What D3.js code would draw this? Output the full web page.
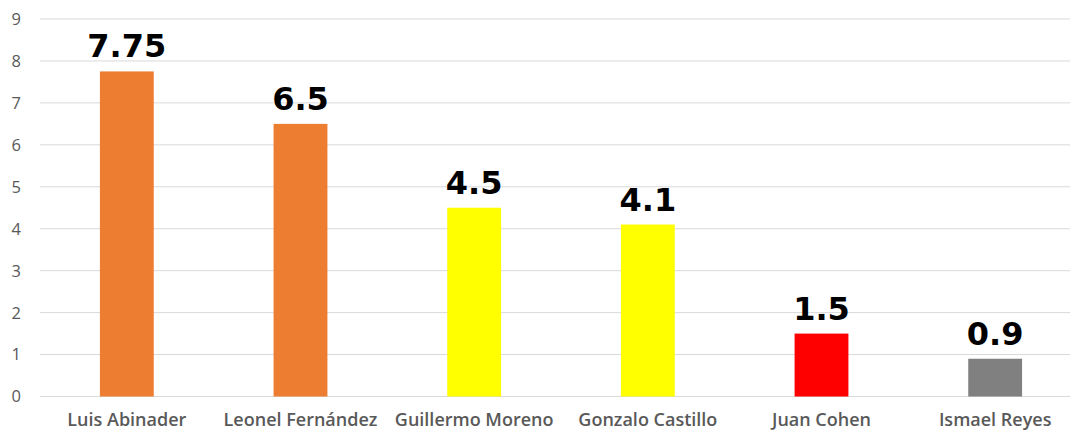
<!DOCTYPE html>
<html><head><meta charset="utf-8">
<script src="https://cdn.jsdelivr.net/npm/d3@7"></script>
<style>body{margin:0;background:#fff}svg{display:block}</style>
</head><body><svg id="c" width="1070" height="432"></svg>
<script>
const categories = ["Luis Abinader","Leonel Fernández","Guillermo Moreno","Gonzalo Castillo","Juan Cohen","Ismael Reyes"];
const values = [7.75, 6.5, 4.5, 4.1, 1.5, 0.9];
const valueLabels = ["7.75","6.5","4.5","4.1","1.5","0.9"];
const colors = ["#ED7D31","#ED7D31","#FFFF00","#FFFF00","#FF0000","#808080"];
const yTicks = [0,1,2,3,4,5,6,7,8,9];

const svg = d3.select("#c");
const x = d3.scaleBand().domain(categories).range([40, 1082]).paddingInner(0.69).paddingOuter(0.345);
const y = d3.scaleLinear().domain([0, 9]).range([396.5, 19]);

svg.append("g").selectAll("line").data(yTicks).join("line")
  .attr("x1", 40).attr("x2", 1070)
  .attr("y1", d => y(d)).attr("y2", d => y(d))
  .attr("stroke", "#d9d9d9").attr("stroke-width", 1);

svg.append("g").selectAll("text").data(yTicks).join("text")
  .attr("x", 21).attr("y", d => y(d)).attr("dy", "0.36em")
  .attr("text-anchor", "end")
  .attr("font-family", "Open Sans").attr("font-size", 16.5).attr("fill", "#595959")
  .text(d => d);

svg.append("g").selectAll("rect").data(values).join("rect")
  .attr("x", (d,i) => x(categories[i])).attr("width", x.bandwidth())
  .attr("y", d => y(d)).attr("height", d => y(0) - y(d))
  .attr("fill", (d,i) => colors[i]);

svg.append("g").selectAll("text").data(values).join("text")
  .attr("x", (d,i) => x(categories[i]) + x.bandwidth()/2)
  .attr("y", d => y(d) - 14)
  .attr("text-anchor", "middle")
  .attr("font-family", "DejaVu Sans").attr("font-weight", "bold").attr("font-size", 32).attr("fill", "#000")
  .text((d,i) => valueLabels[i]);

svg.append("g").selectAll("text").data(categories).join("text")
  .attr("x", d => x(d) + x.bandwidth()/2).attr("y", 426)
  .attr("text-anchor", "middle")
  .attr("font-family", "Open Sans").attr("font-weight", 600).attr("font-size", 18).attr("fill", "#595959")
  .text(d => d);
</script></body></html>
